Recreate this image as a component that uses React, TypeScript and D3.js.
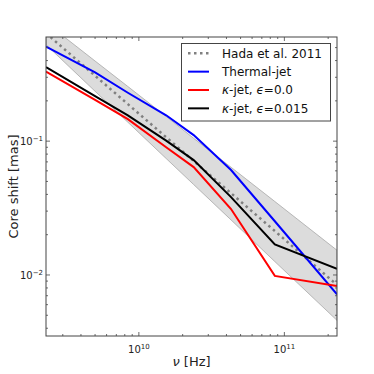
import React from 'react';
import * as d3 from 'd3';

// frequencies in Hz
const freqs = [2.3e9, 5e9, 8.4e9, 15.4e9, 23.8e9, 43e9, 86e9, 230e9];
// core shift [mas]
const thermal = [0.508, 0.326, 0.23, 0.156, 0.111, 0.0608, 0.0252, 0.00716];
const kappa0 = [0.331, 0.203, 0.146, 0.09, 0.064, 0.0311, 0.00984, 0.00828];
const kappa015 = [0.357, 0.217, 0.156, 0.101, 0.0722, 0.0382, 0.0169, 0.0111];
const hada = [0.64, 0.308, 0.189, 0.107, 0.0711, 0.0408, 0.0213, 0.00843];
const hadaHi = [0.768, 0.397, 0.256, 0.153, 0.105, 0.0638, 0.0354, 0.0153];
const hadaLo = [0.526, 0.236, 0.1385, 0.0742, 0.0474, 0.0258, 0.0126, 0.00458];

const xMajor = [1e10, 1e11];
const xMajorExp = ['10', '11'];
const yMajor = [1e-2, 1e-1];
const yMajorExp = ['\u22122', '\u22121'];

const FONT = 'DejaVu Sans, sans-serif';

const App = () => {
  const left = 46, right = 337, top = 37, bottom = 336;
  const x = d3.scaleLog().domain([2.3e9, 2.3e11]).range([left, right]);
  const y = d3.scaleLog().domain([0.0035, 0.6]).range([bottom, top]);

  const line = d3.line<number>()
    .x((_, i) => x(freqs[i]))
    .y(d => y(d));

  const area = d3.area<number>()
    .x((_, i) => x(freqs[i]))
    .y0((_, i) => y(hadaLo[i]))
    .y1((_, i) => y(hadaHi[i]));

  const xMinor: number[] = [];
  [1e9, 1e10, 1e11].forEach(b => {
    for (let k = 2; k <= 9; k++) {
      const v = b * k;
      if (v >= 2.3e9 && v <= 2.3e11) xMinor.push(v);
    }
  });
  const yMinor: number[] = [];
  [1e-3, 1e-2, 1e-1].forEach(b => {
    for (let k = 2; k <= 9; k++) {
      const v = b * k;
      if (v >= 0.0035 && v <= 0.6) yMinor.push(v);
    }
  });

  const tickColor = '#444';
  const legendItems = [
    { key: 'hada', color: '#808080', dash: '2.5,3.5', width: 2.5 },
    { key: 'thermal', color: '#0000ff', dash: null, width: 2 },
    { key: 'k0', color: '#ff0000', dash: null, width: 2 },
    { key: 'k015', color: '#000000', dash: null, width: 2 },
  ];
  const legendLabel = (key: string) => {
    if (key === 'hada') return <tspan>Hada et al. 2011</tspan>;
    if (key === 'thermal') return <tspan>Thermal-jet</tspan>;
    const eps = key === 'k0' ? '0.0' : '0.015';
    return (
      <>
        <tspan fontStyle="italic">κ</tspan>
        <tspan>-jet, </tspan>
        <tspan fontStyle="italic">ϵ</tspan>
        <tspan>={eps}</tspan>
      </>
    );
  };

  return (
    <svg width={374} height={374} style={{ position: 'absolute', left: 0, top: 0, background: '#fff' }}
      fontFamily={FONT}>
      <defs>
        <clipPath id="plotClip">
          <rect x={left} y={top} width={right - left} height={bottom - top} />
        </clipPath>
      </defs>

      <g clipPath="url(#plotClip)">
        <path d={area(hada) || ''} fill="#dcdcdc" stroke="#a8a8a8" strokeWidth={0.8} />
        <path d={line(hada) || ''} fill="none" stroke="#808080" strokeWidth={2.5} strokeDasharray="2.5,3.5" />
        <path d={line(thermal) || ''} fill="none" stroke="#0000ff" strokeWidth={2} />
        <path d={line(kappa0) || ''} fill="none" stroke="#ff0000" strokeWidth={2} />
        <path d={line(kappa015) || ''} fill="none" stroke="#000000" strokeWidth={2} />
      </g>

      {/* ticks, inside, all four sides */}
      <g stroke={tickColor} strokeWidth={0.8}>
        {xMajor.map(v => (
          <g key={'xM' + v}>
            <line x1={x(v)} x2={x(v)} y1={bottom} y2={bottom - 4} />
            <line x1={x(v)} x2={x(v)} y1={top} y2={top + 4} />
          </g>
        ))}
        {xMinor.map(v => (
          <g key={'xm' + v}>
            <line x1={x(v)} x2={x(v)} y1={bottom} y2={bottom - 2} />
            <line x1={x(v)} x2={x(v)} y1={top} y2={top + 2} />
          </g>
        ))}
        {yMajor.map(v => (
          <g key={'yM' + v}>
            <line x1={left} x2={left + 4} y1={y(v)} y2={y(v)} />
            <line x1={right} x2={right - 4} y1={y(v)} y2={y(v)} />
          </g>
        ))}
        {yMinor.map(v => (
          <g key={'ym' + v}>
            <line x1={left} x2={left + 2} y1={y(v)} y2={y(v)} />
            <line x1={right} x2={right - 2} y1={y(v)} y2={y(v)} />
          </g>
        ))}
      </g>

      <rect x={left} y={top} width={right - left} height={bottom - top} fill="none" stroke={tickColor} strokeWidth={1} />

      {/* tick labels */}
      {xMajor.map((v, i) => (
        <text key={'xl' + v} x={x(v)} y={353} textAnchor="middle" fontSize={10} fill="#222">
          <tspan>10</tspan>
          <tspan dy={-4} fontSize={7}>{xMajorExp[i]}</tspan>
        </text>
      ))}
      {yMajor.map((v, i) => (
        <text key={'yl' + v} x={43} y={y(v) + 4} textAnchor="end" fontSize={10} fill="#222">
          <tspan>10</tspan>
          <tspan dy={-4} fontSize={7}>{yMajorExp[i]}</tspan>
        </text>
      ))}

      {/* axis labels */}
      <text x={(left + right) / 2} y={366} textAnchor="middle" fontSize={13} fill="#222">
        <tspan fontStyle="italic">ν</tspan>
        <tspan> [Hz]</tspan>
      </text>
      <text transform={`translate(17.5,${(top + bottom) / 2}) rotate(-90)`} textAnchor="middle" fontSize={13} fill="#222">
        Core shift [mas]
      </text>

      {/* legend */}
      <rect x={181.5} y={43.5} width={149} height={77.5} fill="#fff" stroke={tickColor} strokeWidth={1} />
      {legendItems.map((it, i) => {
        const ly = 53.3 + i * 18.35;
        return (
          <g key={it.key}>
            <line x1={188} x2={209} y1={ly} y2={ly} stroke={it.color} strokeWidth={it.width}
              strokeDasharray={it.dash || undefined} />
            <text x={222} y={ly + 4.3} fontSize={12} fill="#111">{legendLabel(it.key)}</text>
          </g>
        );
      })}
    </svg>
  );
};

export default App;
